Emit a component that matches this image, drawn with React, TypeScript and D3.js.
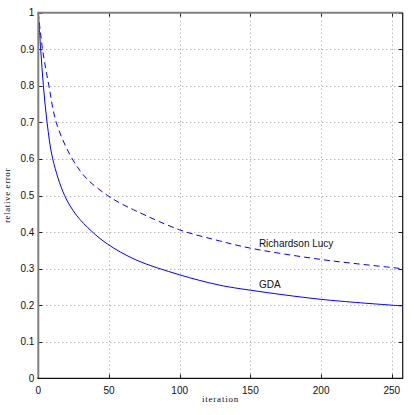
import React from 'react';
import * as d3 from 'd3';

// iteration / relative error samples
const gdaIter = [0, 1.7, 3.6, 6.2, 10.2, 18.6, 27, 37.5, 49, 69, 100, 128, 150, 200, 250, 257];
const gdaErr = [1.0, 0.9, 0.8, 0.7, 0.6, 0.5, 0.446, 0.403, 0.367, 0.324, 0.283, 0.255, 0.241, 0.216, 0.2, 0.198];

const rlIter = [0, 3, 7.5, 12.7, 23.3, 34, 49, 58, 69, 100, 128, 150, 200, 250, 257];
const rlErr = [1.0, 0.9, 0.8, 0.7, 0.605, 0.547, 0.5, 0.479, 0.458, 0.406, 0.376, 0.356, 0.325, 0.303, 0.3];

const xTicks = [0, 50, 100, 150, 200, 250];
const yTicks = [0, 0.1, 0.2, 0.3, 0.4, 0.5, 0.6, 0.7, 0.8, 0.9, 1];

const labels = [
	{ text: 'Richardson Lucy', iter: 156, err: 0.36 },
	{ text: 'GDA', iter: 156, err: 0.246 },
];

const useD3 = (renderChartFn, dependencies) => {
	const ref = React.useRef(null);
	React.useEffect(() => {
		renderChartFn(d3.select(ref.current));
	}, dependencies);
	return ref;
};

export default function App() {
	const width = 415;
	const height = 415;
	const margin = { top: 12.7, right: 12.3, bottom: 36.7, left: 38.3 };

	const ref = useD3((svg) => {
		svg.selectAll('*').remove();

		const x = d3.scaleLinear().domain([0, 257.7]).range([margin.left, width - margin.right]);
		const y = d3.scaleLinear().domain([0, 1]).range([height - margin.bottom, margin.top]);
		const [x0, x1] = x.range();
		const [y0, y1] = y.range();

		const sans = 'Liberation Sans, Arial, sans-serif';

		// dotted grid
		const grid = svg.append('g').attr('stroke', '#9a9a9a').attr('stroke-width', 1).attr('stroke-dasharray', '1,3');
		grid.selectAll('.gx')
			.data(xTicks.filter((d) => d > 0))
			.join('line')
			.attr('x1', (d) => Math.round(x(d)) + 0.5)
			.attr('x2', (d) => Math.round(x(d)) + 0.5)
			.attr('y1', y1)
			.attr('y2', y0);
		grid.selectAll('.gy')
			.data(yTicks.filter((d) => d > 0 && d < 1))
			.join('line')
			.attr('x1', x0)
			.attr('x2', x1)
			.attr('y1', (d) => Math.round(y(d)) + 0.5)
			.attr('y2', (d) => Math.round(y(d)) + 0.5);

		// inner ticks on all four sides
		const tickLen = 4;
		const ticks = svg.append('g').attr('stroke', '#222').attr('stroke-width', 1);
		xTicks.forEach((d) => {
			const px = Math.round(x(d)) + 0.5;
			ticks.append('line').attr('x1', px).attr('x2', px).attr('y1', y0).attr('y2', y0 - tickLen);
			ticks.append('line').attr('x1', px).attr('x2', px).attr('y1', y1).attr('y2', y1 + tickLen);
		});
		yTicks.forEach((d) => {
			const py = Math.round(y(d)) + 0.5;
			ticks.append('line').attr('x1', x0).attr('x2', x0 + tickLen).attr('y1', py).attr('y2', py);
			ticks.append('line').attr('x1', x1).attr('x2', x1 - tickLen).attr('y1', py).attr('y2', py);
		});

		// curves
		const line = (xs, ys) =>
			d3.line()
				.x((d) => x(xs[d]))
				.y((d) => y(ys[d]))
				.curve(d3.curveCatmullRom.alpha(0.5))(d3.range(xs.length));

		svg.append('path')
			.attr('d', line(gdaIter, gdaErr))
			.attr('fill', 'none')
			.attr('stroke', '#0000ff')
			.attr('stroke-width', 1);

		svg.append('path')
			.attr('d', line(rlIter, rlErr))
			.attr('fill', 'none')
			.attr('stroke', '#0000ff')
			.attr('stroke-width', 1)
			.attr('stroke-dasharray', '6,4');

		// box
		svg.append('line').attr('x1', x0).attr('x2', x1).attr('y1', y1).attr('y2', y1).attr('stroke', '#808080').attr('stroke-width', 2);
		svg.append('line').attr('x1', x0).attr('x2', x0).attr('y1', y1 - 1).attr('y2', y0).attr('stroke', '#808080').attr('stroke-width', 2);
		svg.append('line').attr('x1', x0 - 1).attr('x2', x1 + 0.5).attr('y1', y0).attr('y2', y0).attr('stroke', '#111').attr('stroke-width', 1.2);
		svg.append('line').attr('x1', x1).attr('x2', x1).attr('y1', y1).attr('y2', y0).attr('stroke', '#111').attr('stroke-width', 1.2);

		// tick labels
		svg.append('g')
			.selectAll('text')
			.data(xTicks)
			.join('text')
			.attr('x', (d) => x(d))
			.attr('y', y0 + 16)
			.attr('text-anchor', 'middle')
			.attr('font-family', sans)
			.attr('font-size', 10)
			.attr('fill', '#111')
			.text((d) => String(d));

		svg.append('g')
			.selectAll('text')
			.data(yTicks)
			.join('text')
			.attr('x', x0 - 4)
			.attr('y', (d) => y(d) + 3.5)
			.attr('text-anchor', 'end')
			.attr('font-family', sans)
			.attr('font-size', 10)
			.attr('fill', '#111')
			.text((d) => String(d));

		// curve labels
		svg.append('g')
			.selectAll('text')
			.data(labels)
			.join('text')
			.attr('x', (d) => x(d.iter))
			.attr('y', (d) => y(d.err))
			.attr('font-family', sans)
			.attr('font-size', 10)
			.attr('fill', '#111')
			.text((d) => d.text);

		// axis titles
		svg.append('text')
			.attr('x', (x0 + x1) / 2)
			.attr('y', 402)
			.attr('text-anchor', 'middle')
			.attr('font-family', 'Liberation Serif, serif')
			.attr('font-size', 9)
			.attr('letter-spacing', 0.8)
			.attr('fill', '#111')
			.text('iteration');

		svg.append('text')
			.attr('transform', `translate(10,${(y0 + y1) / 2}) rotate(-90)`)
			.attr('text-anchor', 'middle')
			.attr('font-family', 'Liberation Serif, serif')
			.attr('font-size', 9)
			.attr('letter-spacing', 0.6)
			.attr('fill', '#111')
			.text('relative error');
	}, []);

	return (
		<svg
			ref={ref}
			width={width}
			height={height}
			style={{ position: 'absolute', left: 0, top: 0, background: '#fff' }}
		/>
	);
}
